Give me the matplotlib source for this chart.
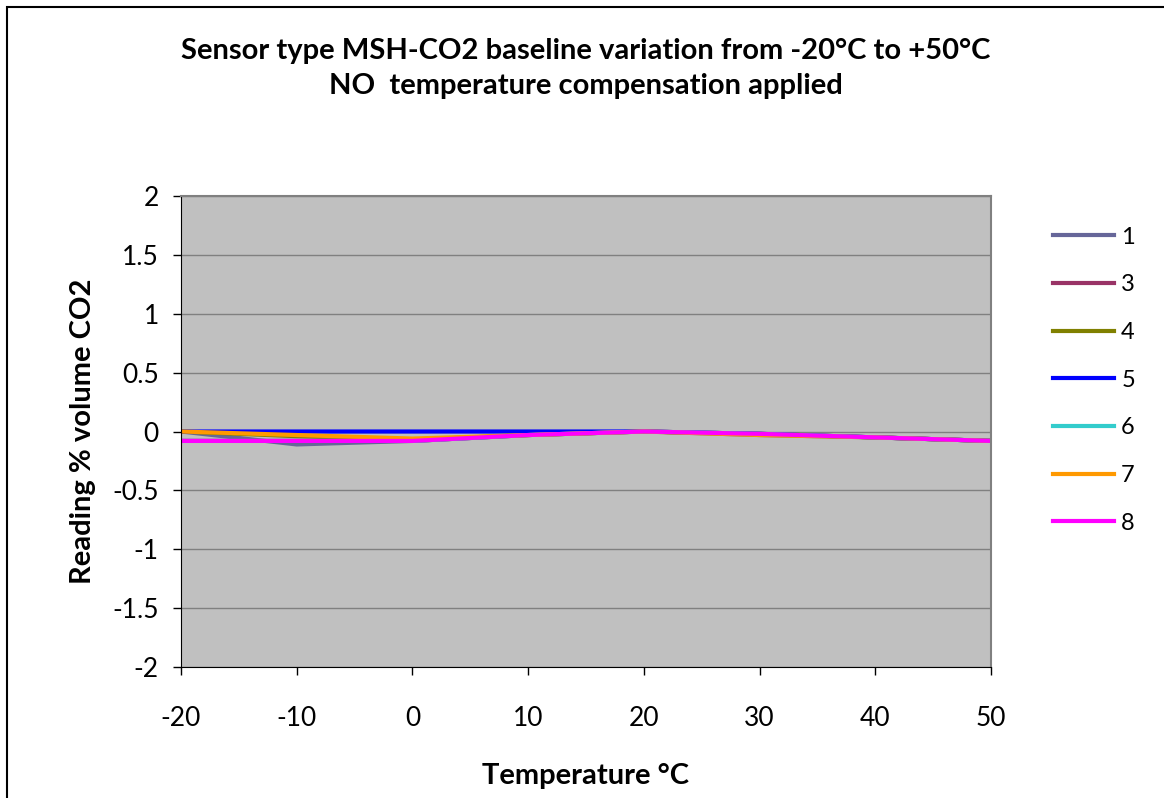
import matplotlib
matplotlib.use("Agg")
import matplotlib.pyplot as plt
from matplotlib.patches import Rectangle

# temperatures (degC) and baseline readings (% vol CO2) per sensor
temps = [-20, -10, 0, 10, 20, 30, 40, 50]
s1 = [0.0, -0.11, -0.08, -0.03, 0.0, -0.03, -0.05, -0.08]
s3 = [-0.08, -0.08, -0.08, -0.03, 0.0, -0.02, -0.05, -0.08]
s4 = [0.0, -0.04, -0.07, -0.03, 0.0, -0.02, -0.05, -0.08]
s5 = [0.0, 0.0, 0.0, 0.0, 0.0, -0.02, -0.05, -0.08]
s6 = [-0.08, -0.08, -0.08, -0.03, 0.0, -0.02, -0.05, -0.08]
s7 = [0.0, -0.03, -0.06, -0.03, 0.0, -0.03, -0.05, -0.08]
s8 = [-0.08, -0.08, -0.08, -0.03, 0.0, -0.02, -0.05, -0.08]

series = [("1", s1, "#666699"), ("3", s3, "#993366"), ("4", s4, "#808000"),
          ("5", s5, "#0000FF"), ("6", s6, "#33CCCC"), ("7", s7, "#FF9900"),
          ("8", s8, "#FF00FF")]

plt.rcParams['font.family'] = ['Lato', 'DejaVu Sans']
plt.rcParams['axes.unicode_minus'] = False

fig = plt.figure(figsize=(11.64, 7.98), dpi=100)
# outer chart border (cropped on right/bottom like the original)
fig.patches.append(Rectangle((7 / 1164, -0.1), 1.2, 1 - 7 / 798 + 0.1,
                             transform=fig.transFigure, fill=False,
                             edgecolor='black', linewidth=1.5))

ax = fig.add_axes([181 / 1164, 1 - 667 / 798, 810 / 1164, 471 / 798])
ax.set_facecolor('#C0C0C0')

for name, vals, col in series:
    ax.plot(temps, vals, color=col, linewidth=3, label=name)

ax.set_xlim(-20, 50)
ax.set_ylim(-2, 2)
ax.set_xticks(range(-20, 51, 10))
ax.set_yticks([-2, -1.5, -1, -0.5, 0, 0.5, 1, 1.5, 2])
ax.set_yticklabels(['-2', '-1.5', '-1', '-0.5', '0', '0.5', '1', '1.5', '2'])
ax.yaxis.grid(True, color='#808080', linewidth=1)
ax.set_axisbelow(True)

for s in ['top', 'right']:
    ax.spines[s].set_color('#808080')
    ax.spines[s].set_linewidth(1.5)
ax.spines['left'].set_color('black')
ax.spines['bottom'].set_color('black')
ax.tick_params(direction='out', length=6, width=1, labelsize=19)
ax.tick_params(axis='x', pad=22)
ax.tick_params(axis='y', pad=10)

ax.set_xlabel('Temperature °C', fontsize=21, fontweight='bold', labelpad=23)
ax.set_ylabel('Reading % volume CO2', fontsize=21, fontweight='bold', labelpad=12)

fig.text(0.503, 1 - 51 / 798, 'Sensor type MSH-CO2 baseline variation from -20°C to +50°C',
         ha='center', va='center', fontsize=21, fontweight='bold')
fig.text(0.503, 1 - 86 / 798, 'NO  temperature compensation applied',
         ha='center', va='center', fontsize=21, fontweight='bold')

leg = ax.legend(loc='upper left', bbox_to_anchor=(1.05, 0.98), frameon=False,
                fontsize=17, handlelength=2.6, labelspacing=1.13, handletextpad=0.3)

fig.savefig('out.png', dpi=100)
